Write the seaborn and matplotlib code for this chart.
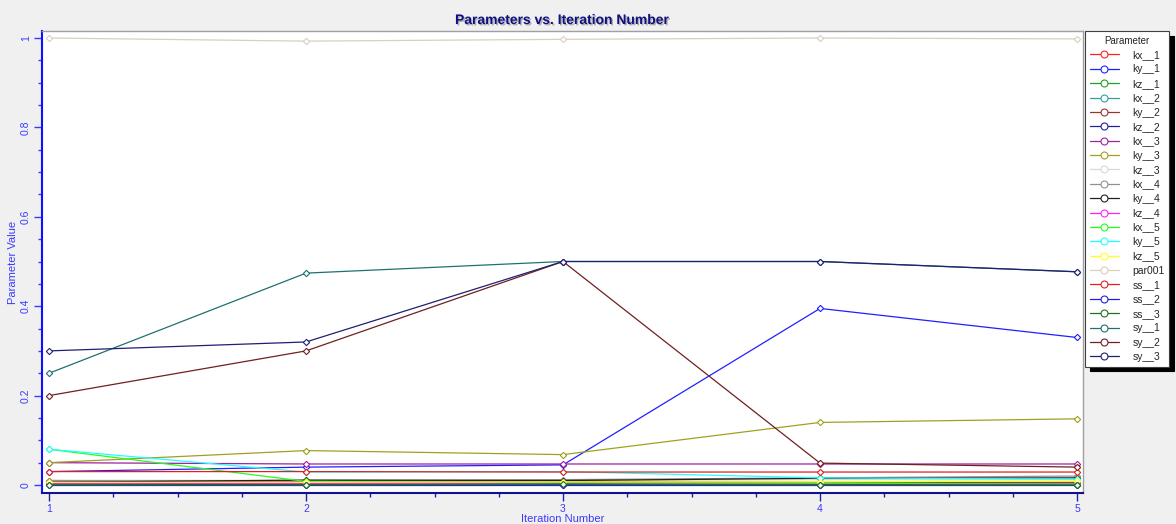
import numpy as np
import pandas as pd
import matplotlib
matplotlib.use("Agg")
import matplotlib.pyplot as plt
import matplotlib.patheffects as pe
from matplotlib.lines import Line2D
from matplotlib.ticker import MultipleLocator, FixedLocator
import seaborn as sns

iterations = [1, 2, 3, 4, 5]
params = ["kx__1", "ky__1", "kz__1", "kx__2", "ky__2", "kz__2", "kx__3", "ky__3",
          "kz__3", "kx__4", "ky__4", "kz__4", "kx__5", "ky__5", "kz__5", "par001",
          "ss__1", "ss__2", "ss__3", "sy__1", "sy__2", "sy__3"]
kx__1 = [0.010, 0.008, 0.008, 0.006, 0.006]
ky__1 = [0.030, 0.040, 0.045, 0.395, 0.330]
kz__1 = [0.005, 0.004, 0.004, 0.003, 0.004]
kx__2 = [0.005, 0.006, 0.006, 0.005, 0.005]
ky__2 = [0.008, 0.006, 0.005, 0.005, 0.005]
kz__2 = [0.002, 0.001, 0.001, 0.001, 0.001]
kx__3 = [0.050, 0.047, 0.047, 0.047, 0.047]
ky__3 = [0.050, 0.077, 0.068, 0.140, 0.148]
kz__3 = [0.010, 0.010, 0.010, 0.012, 0.012]
kx__4 = [0.010, 0.010, 0.012, 0.016, 0.020]
ky__4 = [0.006, 0.011, 0.010, 0.015, 0.016]
kz__4 = [0.004, 0.003, 0.003, 0.003, 0.003]
kx__5 = [0.080, 0.008, 0.005, 0.004, 0.002]
ky__5 = [0.080, 0.029, 0.030, 0.016, 0.013]
kz__5 = [0.006, 0.006, 0.007, 0.007, 0.009]
par001 = [1.000, 0.993, 0.997, 1.000, 0.998]
ss__1 = [0.030, 0.030, 0.029, 0.029, 0.029]
ss__2 = [0.001, 0.001, 0.001, 0.001, 0.001]
ss__3 = [0.000, 0.000, 0.002, 0.000, 0.000]
sy__1 = [0.250, 0.474, 0.500, 0.500, 0.477]
sy__2 = [0.200, 0.300, 0.500, 0.049, 0.040]
sy__3 = [0.300, 0.320, 0.500, 0.500, 0.477]
series = [kx__1, ky__1, kz__1, kx__2, ky__2, kz__2, kx__3, ky__3, kz__3, kx__4, ky__4,
          kz__4, kx__5, ky__5, kz__5, par001, ss__1, ss__2, ss__3, sy__1, sy__2, sy__3]

colors = ["#ff2020", "#2020ff", "#20a020", "#30a0a0", "#a03030", "#2020a0",
          "#a020a0", "#a0a020", "#d8d8d8", "#909090", "#202020", "#ff20ff",
          "#20ff20", "#20ffff", "#ffff20", "#d8d0c0", "#e02020", "#2020e0",
          "#207020", "#207070", "#702020", "#202070"]

rows = []
for p, vals in zip(params, series):
    for it, v in zip(iterations, vals):
        rows.append({"Iteration": it, "Value": v, "Parameter": p})
df = pd.DataFrame(rows)

sns.set_style("white")
plt.rcParams["font.family"] = ["Liberation Sans", "DejaVu Sans"]

W, H = 1176, 524
fig = plt.figure(figsize=(W / 100, H / 100), dpi=100, facecolor="#f0f0f0")
ax = fig.add_axes([42 / W, 1 - 493 / H, (1083 - 42) / W, (493 - 31) / H])
ax.set_facecolor("white")

sns.lineplot(data=df, x="Iteration", y="Value", hue="Parameter",
             palette=dict(zip(params, colors)), hue_order=params,
             marker="D", markersize=3.2, markerfacecolor="white",
             markeredgewidth=0.8, linewidth=0.9, legend=False, ax=ax)
for ln in ax.lines:
    ln.set_markeredgecolor(ln.get_color())
    ln.set_markerfacecolor("white")

ax.set_xlim(1 - 7 / 257, 5 + 6 / 257)
ax.set_ylim(-8 / 447, 1 + 7 / 447)

blue = "#3a3aff"
ax.xaxis.set_major_locator(FixedLocator(iterations))
ax.xaxis.set_minor_locator(MultipleLocator(0.25))
ax.yaxis.set_major_locator(MultipleLocator(0.2))
ax.yaxis.set_minor_locator(MultipleLocator(0.05))
ax.set_xticklabels([str(i) for i in iterations])
ax.set_yticks([0, 0.2, 0.4, 0.6, 0.8, 1.0])
ax.set_yticklabels(["0", "0.2", "0.4", "0.6", "0.8", "1"], rotation=90, va="center")
ax.tick_params(axis="both", which="major", direction="out", length=6, width=1,
               colors=blue, labelsize=7.5, pad=2)
ax.tick_params(axis="both", which="minor", direction="out", length=3, width=1,
               colors=blue)
ax.tick_params(axis="x", which="both", bottom=True, colors="#2020a0", labelcolor=blue)
ax.tick_params(axis="y", which="both", left=True)

for s in ["top", "right"]:
    ax.spines[s].set_color("#a0a0a0")
    ax.spines[s].set_linewidth(1)
ax.spines["left"].set_color("#1010ff")
ax.spines["left"].set_linewidth(1.5)
ax.spines["bottom"].set_color("#101090")
ax.spines["bottom"].set_linewidth(1.5)

ax.set_xlabel("Iteration Number", color=blue, fontsize=8, labelpad=0)
ax.set_ylabel("Parameter Value", color=blue, fontsize=8, labelpad=2)

fig.text(562 / W, 1 - 20 / H, "Parameters vs. Iteration Number", ha="center",
         va="center", fontsize=10, fontweight="bold", color="#101080",
         path_effects=[pe.withSimplePatchShadow(offset=(1, -1), shadow_rgbFace="#808080", alpha=0.6)])

handles = [Line2D([0], [0], color=c, marker="o", markersize=5, markerfacecolor="white",
                  markeredgecolor=c, markeredgewidth=0.8, linewidth=0.9) for c in colors]
leg = fig.legend(handles, params, title="Parameter", loc="upper left",
                 bbox_to_anchor=(1085 / W, 1 - 31 / H), fontsize=7.5, title_fontsize=7,
                 frameon=True, fancybox=False, edgecolor="#404040", facecolor="white",
                 framealpha=1, borderpad=0.45, labelspacing=0.42, handlelength=2.8,
                 handletextpad=1.3, borderaxespad=0,
                 shadow={"ox": 3.5, "oy": -3.5, "color": "black", "alpha": 1})
leg.get_frame().set_linewidth(0.8)

fig.savefig("out.png", dpi=100, facecolor=fig.get_facecolor())
